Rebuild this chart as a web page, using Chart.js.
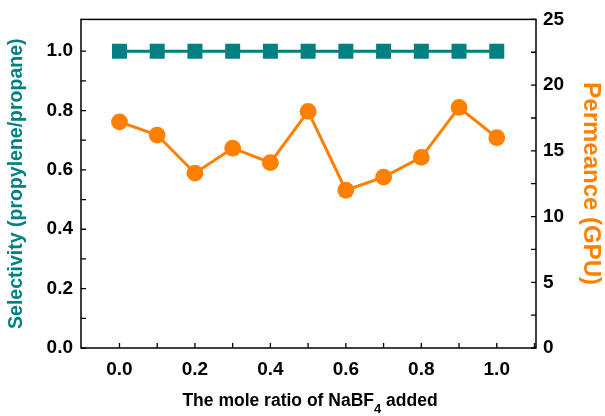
<!DOCTYPE html>
<html><head><meta charset="utf-8">
<script src="https://cdn.jsdelivr.net/npm/chart.js@4.4.0/dist/chart.umd.min.js"></script>
<style>html,body{margin:0;padding:0;background:#fff}#wrap{width:605px;height:416px}</style>
</head><body><div id="wrap"><canvas id="c" width="605" height="416"></canvas></div>
<script>
const moleRatio = [0.0, 0.1, 0.2, 0.3, 0.4, 0.5, 0.6, 0.7, 0.8, 0.9, 1.0];
const selectivity = [1.0, 1.0, 1.0, 1.0, 1.0, 1.0, 1.0, 1.0, 1.0, 1.0, 1.0];
const permeance = [17.2, 16.2, 13.3, 15.2, 14.1, 18.0, 12.0, 13.0, 14.5, 18.3, 16.0];
const xTicks = [0.0, 0.2, 0.4, 0.6, 0.8, 1.0];
const xMinorTicks = [0.1, 0.3, 0.5, 0.7, 0.9, 1.1];
const yLeftTicks = [0.0, 0.2, 0.4, 0.6, 0.8, 1.0];
const yLeftMinorTicks = [0.1, 0.3, 0.5, 0.7, 0.9];
const yRightTicks = [0, 5, 10, 15, 20, 25];
const yRightMinorTicks = [2.5, 7.5, 12.5, 17.5, 22.5];
const xTitleMain = 'The mole ratio of NaBF';
const xTitleSub = '4';
const xTitleEnd = ' added';
const leftTitle = 'Selectivity (propylene/propane)';
const rightTitle = 'Permeance (GPU)';

const TEAL = '#008080', ORANGE = '#FF8000';
const FONT = '"Liberation Sans", Arial, sans-serif';

const framePlugin = {
  id: 'frame',
  beforeDatasetsDraw(chart) {
    const {ctx, chartArea: a, scales} = chart;
    ctx.save();
    ctx.strokeStyle = '#000';
    ctx.lineWidth = 1.5;
    ctx.strokeRect(a.left, a.top, a.right - a.left, a.bottom - a.top);
    ctx.lineWidth = 1.3;
    const L = 5;
    ctx.beginPath();
    [...xTicks, ...xMinorTicks].forEach(v => {
      const x = scales.x.getPixelForValue(v);
      if (x > a.right + 0.5) return;
      ctx.moveTo(x, a.bottom); ctx.lineTo(x, a.bottom - L);
    });
    [...yLeftTicks, ...yLeftMinorTicks].forEach(v => {
      const y = scales.y.getPixelForValue(v);
      ctx.moveTo(a.left, y); ctx.lineTo(a.left + L, y);
    });
    [...yRightTicks, ...yRightMinorTicks].forEach(v => {
      const y = scales.y2.getPixelForValue(v);
      ctx.moveTo(a.right, y); ctx.lineTo(a.right - L, y);
    });
    ctx.stroke();
    ctx.restore();
  },
  afterDraw(chart) {
    const {ctx} = chart;
    ctx.save();
    ctx.fillStyle = '#000';
    ctx.textBaseline = 'alphabetic';
    const mainFont = 'bold 17.5px ' + FONT;
    const subFont = 'bold 13px ' + FONT;
    ctx.font = mainFont;
    const w1 = ctx.measureText(xTitleMain).width;
    const w3 = ctx.measureText(xTitleEnd).width;
    ctx.font = subFont;
    const w2 = ctx.measureText(xTitleSub).width;
    const total = w1 + w2 + w3;
    let x = 310 - total / 2;
    const base = 406;
    ctx.textAlign = 'left';
    ctx.font = mainFont;
    ctx.fillText(xTitleMain, x, base);
    x += w1;
    ctx.font = subFont;
    ctx.fillText(xTitleSub, x, base + 7);
    x += w2;
    ctx.font = mainFont;
    ctx.fillText(xTitleEnd, x, base);
    ctx.restore();
  }
};

new Chart(document.getElementById('c'), {
  type: 'line',
  data: {
    datasets: [
      {
        label: 'Selectivity',
        data: moleRatio.map((x, i) => ({x, y: selectivity[i]})),
        yAxisID: 'y',
        borderColor: TEAL,
        backgroundColor: TEAL,
        borderWidth: 3,
        pointStyle: 'rect',
        pointRadius: 10.6,
        pointBorderWidth: 0,
        tension: 0
      },
      {
        label: 'Permeance',
        data: moleRatio.map((x, i) => ({x, y: permeance[i]})),
        yAxisID: 'y2',
        borderColor: ORANGE,
        backgroundColor: ORANGE,
        borderWidth: 3,
        pointStyle: 'circle',
        pointRadius: 8.4,
        pointBorderWidth: 0,
        tension: 0
      }
    ]
  },
  options: {
    responsive: false,
    devicePixelRatio: 1,
    animation: false,
    layout: {padding: {top: 16, left: 0, right: 0, bottom: 0}},
    plugins: {legend: {display: false}, tooltip: {enabled: false}},
    scales: {
      x: {
        type: 'linear',
        min: -0.102, max: 1.104,
        afterBuildTicks(s) { s.ticks = xTicks.map(v => ({value: v})); },
        afterFit(s) { s.height = 68; },
        grid: {display: false, drawTicks: false},
        border: {display: false},
        ticks: {
          padding: 10,
          color: '#000',
          font: {family: FONT, size: 19, weight: 'bold'},
          callback: v => Number(v).toFixed(1),
          maxRotation: 0
        }
      },
      y: {
        type: 'linear',
        position: 'left',
        min: 0, max: 1.107,
        afterBuildTicks(s) { s.ticks = yLeftTicks.map(v => ({value: v})); },
        afterFit(s) { s.width = 81; },
        grid: {display: false, drawTicks: false},
        border: {display: false},
        ticks: {
          padding: 8,
          color: '#000',
          font: {family: FONT, size: 19, weight: 'bold'},
          callback: v => Number(v).toFixed(1)
        },
        title: {
          display: true,
          text: leftTitle,
          color: TEAL,
          padding: {top: 5, bottom: 0},
          font: {family: FONT, size: 19.5, weight: 'bold'}
        }
      },
      y2: {
        type: 'linear',
        position: 'right',
        min: 0, max: 25,
        afterBuildTicks(s) { s.ticks = yRightTicks.map(v => ({value: v})); },
        afterFit(s) { s.width = 69; },
        grid: {display: false, drawTicks: false},
        border: {display: false},
        ticks: {
          padding: 7,
          color: '#000',
          font: {family: FONT, size: 19, weight: 'bold'},
          callback: v => String(v)
        },
        title: {
          display: true,
          text: rightTitle,
          color: ORANGE,
          padding: {top: 0, bottom: 0},
          font: {family: FONT, size: 24, weight: 'bold'}
        }
      }
    }
  },
  plugins: [framePlugin]
});
</script>
</body></html>
